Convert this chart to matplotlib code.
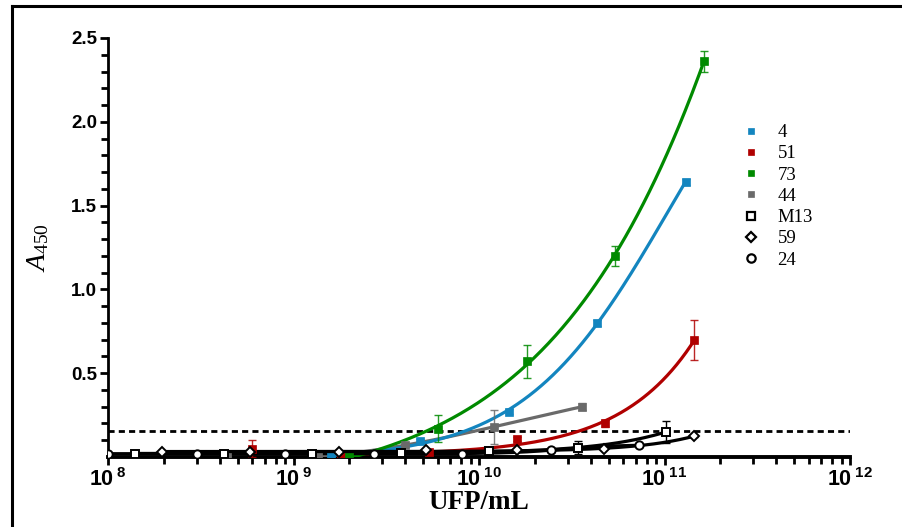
import numpy as np
import matplotlib
matplotlib.use("Agg")
import matplotlib.pyplot as plt
from matplotlib.lines import Line2D
from matplotlib.ticker import FixedLocator, NullFormatter, LogLocator

plt.rcParams['mathtext.fontset'] = 'custom'
plt.rcParams['mathtext.rm'] = 'Liberation Serif'
plt.rcParams['mathtext.it'] = 'Liberation Serif:italic'
plt.rcParams['mathtext.bf'] = 'Liberation Sans:bold'

# ---------------- data ----------------
labels = ["4", "51", "73", "44", "M13", "59", "24"]

x_4 = [1.6e9, 4.8e9, 1.45e10, 4.3e10, 1.3e11]
y_4 = [0.0, 0.095, 0.27, 0.80, 1.64]
e_4 = [0.005, 0.01, 0.015, 0.02, 0.02]

x_51 = [6.0e8, 1.8e9, 5.4e9, 1.6e10, 4.8e10, 1.45e11]
y_51 = [0.05, 0.0, 0.03, 0.105, 0.20, 0.70]
e_51 = [0.05, 0.005, 0.01, 0.012, 0.02, 0.12]

x_73 = [2.0e9, 6.0e9, 1.82e10, 5.4e10, 1.63e11]
y_73 = [0.0, 0.17, 0.57, 1.20, 2.36]
e_73 = [0.005, 0.08, 0.10, 0.06, 0.06]

x_44 = [4.4e8, 1.35e9, 4.0e9, 1.2e10, 3.6e10]
y_44 = [0.0, 0.0, 0.07, 0.18, 0.30]
e_44 = [0.005, 0.005, 0.01, 0.10, 0.02]

x_M13 = [1.4e8, 4.2e8, 1.26e9, 3.8e9, 1.13e10, 3.4e10, 1.02e11]
y_M13 = [0.02, 0.02, 0.02, 0.025, 0.035, 0.055, 0.15]
e_M13 = [0.005, 0.005, 0.005, 0.005, 0.005, 0.04, 0.065]

x_59 = [1.95e8, 5.8e8, 1.75e9, 5.2e9, 1.6e10, 4.7e10, 1.45e11]
y_59 = [0.03, 0.03, 0.03, 0.04, 0.04, 0.05, 0.125]
e_59 = [0.005, 0.005, 0.005, 0.005, 0.005, 0.005, 0.005]

x_24 = [1.0e8, 3.0e8, 9.0e8, 2.7e9, 8.1e9, 2.43e10, 7.29e10]
y_24 = [0.02, 0.02, 0.02, 0.02, 0.02, 0.04, 0.07]
e_24 = [0.005, 0.005, 0.005, 0.005, 0.005, 0.005, 0.005]

cutoff = 0.155
x_ticks = [1e8, 1e9, 1e10, 1e11, 1e12]
y_ticks = [0.5, 1.0, 1.5, 2.0, 2.5]

colors = {"4": "#1385BF", "51": "#B00000", "73": "#008A00", "44": "#6A6A6A",
          "M13": "black", "59": "black", "24": "black"}
markers = {"4": "s", "51": "s", "73": "s", "44": "s", "M13": "s", "59": "D", "24": "o"}
series = {"4": (x_4, y_4, e_4), "51": (x_51, y_51, e_51), "73": (x_73, y_73, e_73),
          "44": (x_44, y_44, e_44), "M13": (x_M13, y_M13, e_M13),
          "59": (x_59, y_59, e_59), "24": (x_24, y_24, e_24)}


def fit_sigmoid(x, y):
    """Least-squares fit of y = bottom + span / (1 + (K/x)^h)."""
    lx = np.log10(np.asarray(x))
    y = np.asarray(y)
    best = None
    for h in np.linspace(0.4, 3.0, 27):
        for lk in np.linspace(9.0, 13.0, 161):
            f = 1.0 / (1.0 + 10 ** ((lk - lx) * h))
            A = np.column_stack([np.ones_like(f), f])
            coef, *_ = np.linalg.lstsq(A, y, rcond=None)
            if coef[1] < 0:
                continue
            err = np.sum((A @ coef - y) ** 2)
            if best is None or err < best[0]:
                best = (err, h, lk, coef)
    _, h, lk, coef = best

    def func(xx):
        lxx = np.log10(xx)
        return coef[0] + coef[1] / (1.0 + 10 ** ((lk - lxx) * h))
    return func


fig = plt.figure(figsize=(9.02, 5.27), dpi=100)
ax = fig.add_axes([108 / 902, 70 / 527, 742 / 902, 419 / 527])

# figure frame (left and top)
fig.add_artist(Line2D([12 / 902, 12 / 902], [0, 1 - 6 / 527], transform=fig.transFigure,
                      color='black', lw=2.2))
fig.add_artist(Line2D([12 / 902, 1], [1 - 6 / 527, 1 - 6 / 527], transform=fig.transFigure,
                      color='black', lw=2.2))

ax.axhline(cutoff, color='black', lw=2.0, ls=(0, (2.2, 1.5)), zorder=2)

order_lines = ["44", "51", "4", "73", "24", "59", "M13"]
for name in order_lines:
    x, y, e = series[name]
    c = colors[name]
    if name in ("4", "51", "73", "44"):
        xf = [xi for xi in x if xi >= 1.3e9]
        yf = [yi for xi, yi in zip(x, y) if xi >= 1.3e9]
    else:
        xf, yf = x, y
    func = fit_sigmoid(xf, yf)
    xx = np.logspace(np.log10(min(xf)), np.log10(max(xf)), 300)
    ax.plot(xx, func(xx), color=c, lw=2.3, zorder=3 if c != 'black' else 4,
            solid_capstyle='round')

for name in labels:
    x, y, e = series[name]
    c = colors[name]
    black = c == 'black'
    ax.errorbar(x, y, yerr=e, fmt='none', ecolor=c, elinewidth=1.0, capsize=3,
                capthick=1.0, zorder=5, alpha=1.0 if black else 0.85)
    ax.plot(x, y, ls='none', marker=markers[name],
            ms=(6 if markers[name] != 'D' else 5.2) if black else 6,
            mfc='white' if black else c, mec=c, mew=1.4 if black else 0.5,
            zorder=6)

ax.set_xscale('log')
ax.set_xlim(1e8, 1e12)
ax.set_ylim(0, 2.5)

for s in ['top', 'right']:
    ax.spines[s].set_visible(False)
ax.spines['left'].set_linewidth(2.0)
ax.spines['bottom'].set_linewidth(2.8)

ax.xaxis.set_major_locator(FixedLocator(x_ticks))
ax.set_xticklabels([r'$\mathbf{10^{\ %d}}$' % int(np.log10(v)) for v in x_ticks])
ax.xaxis.set_minor_locator(LogLocator(base=10, subs=np.arange(2, 10)))
ax.xaxis.set_minor_formatter(NullFormatter())
ax.yaxis.set_major_locator(FixedLocator(y_ticks))
ax.set_yticklabels(['%.1f' % v for v in y_ticks])
ax.yaxis.set_minor_locator(FixedLocator(np.arange(0.1, 2.5, 0.1)))

ax.tick_params(axis='both', which='major', direction='out', length=6, width=2.0,
               labelsize=13.5, pad=2)
ax.tick_params(axis='both', which='minor', direction='out', length=5, width=2.0)
ax.tick_params(axis='x', which='major', labelsize=15.5, pad=1)
for lab in ax.get_yticklabels():
    lab.set_fontfamily('Liberation Sans')
    lab.set_fontweight('bold')

ax.set_xlabel('UFP/mL', fontfamily='Liberation Serif', fontweight='bold', fontsize=19.5,
              labelpad=0)
ax.set_ylabel(r'$\mathit{A}_{\mathrm{450}}$', fontsize=20, labelpad=14)

handles = []
for name in labels:
    c = colors[name]
    black = c == 'black'
    handles.append(Line2D([], [], ls='none', marker=markers[name],
                          ms=(6 if markers[name] != 'D' else 5.5) if black else 5,
                          mfc='white' if black else c, mec=c,
                          mew=1.6 if black else 0.5))
leg = ax.legend(handles, labels, loc='upper left', bbox_to_anchor=(742 / 902, 1 - 124 / 527),
                bbox_transform=fig.transFigure, frameon=False,
                prop={'family': 'Liberation Serif', 'size': 13.5}, labelspacing=0.22,
                handlelength=1.0, handletextpad=0.9, borderpad=0, borderaxespad=0)

fig.savefig('out.png', dpi=100)
